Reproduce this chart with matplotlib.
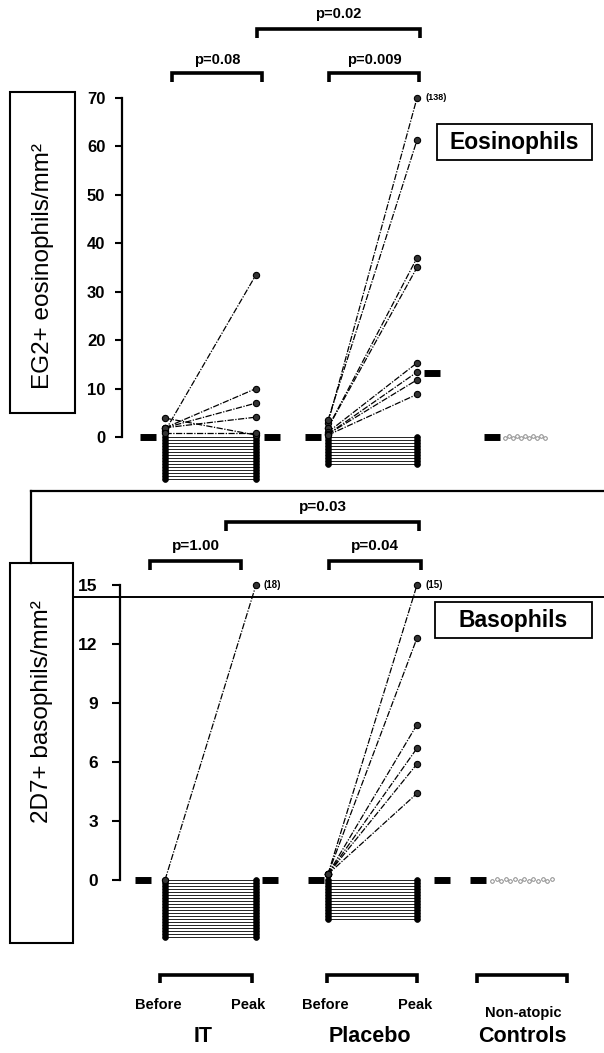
import matplotlib
matplotlib.use('Agg')
import matplotlib.pyplot as plt
from matplotlib.patches import Rectangle

plt.rcParams['font.family'] = ['Liberation Sans', 'DejaVu Sans']

# ---------------- data ----------------
groups = ['IT', 'Placebo', 'Controls']
timepoints = ['Before', 'Peak']
control_label = 'Non-atopic'

# Eosinophils (EG2+ /mm2)
eos_it_before = [1.2, 1.9, 1.9, 1.9, 3.9, 0.8]
eos_it_peak = [33.5, 10.0, 7.0, 4.1, 0.4, 0.8]
eos_it_zero = 15          # subjects with 0 before and 0 at peak
eos_pl_before = [2.9, 3.5, 1.9, 1.9, 1.0, 0.6, 0.6, 0.4]
eos_pl_peak = [70.0, 61.3, 37.0, 35.0, 15.3, 13.4, 11.8, 8.8]
eos_pl_zero = 10
eos_ctrl = [0] * 11
eos_medians = [0, 0, 0, 13.3, 0]   # IT before, IT peak, Pl before, Pl peak, controls
eos_ticks = [0, 10, 20, 30, 40, 50, 60, 70]
eos_pvals = ['p=0.08', 'p=0.009', 'p=0.02']
eos_clip_label = '(138)'

# Basophils (2D7+ /mm2)
baso_it_before = [0.0]
baso_it_peak = [15.0]
baso_it_zero = 20
baso_pl_before = [0.3, 0.3, 0.3, 0.3, 0.3, 0.3]
baso_pl_peak = [15.0, 12.3, 7.9, 6.7, 5.9, 4.4]
baso_pl_zero = 14
baso_ctrl = [0] * 14
baso_medians = [0, 0, 0, 0, 0]
baso_ticks = [0, 3, 6, 9, 12, 15]
baso_pvals = ['p=1.00', 'p=0.04', 'p=0.03']
baso_clip_labels = ['(18)', '(15)']

# ---------------- layout ----------------
W, H = 604, 1053
fig = plt.figure(figsize=(W / 100, H / 100), dpi=100)

col = [165, 256, 328, 417]      # IT before, IT peak, Pl before, Pl peak


def make_ax(top_px, bot_px, zero_px, ppu, spine_x):
    ax = fig.add_axes([0, 1 - bot_px / H, 1, (bot_px - top_px) / H])
    ax.set_xlim(0, W)
    ax.set_ylim((zero_px - bot_px) / ppu, (zero_px - top_px) / ppu)
    ax.patch.set_alpha(0)
    for s in ['top', 'right', 'bottom']:
        ax.spines[s].set_visible(False)
    ax.spines['left'].set_position(('data', spine_x))
    ax.spines['left'].set_linewidth(1.6)
    ax.set_xticks([])
    return ax


def draw_panel(ax, ppu, it_b, it_p, it_z, pl_b, pl_p, pl_z, ctrl, med,
               med_x, ctrl_x0, ctrl_dx):
    step = 3.0 / ppu
    # zero-zero subjects, stacked below zero
    for xb, xp, n in [(col[0], col[1], it_z), (col[2], col[3], pl_z)]:
        for k in range(n):
            y = -k * step
            ax.plot([xb, xp], [y, y], color='#222222', lw=0.7, zorder=2)
            ax.plot([xb, xp], [y, y], ls='none', marker='o', ms=4.2,
                    mfc='black', mec='black', mew=0.5, zorder=3)
    # paired non-zero subjects
    for xb, xp, b, p in [(col[0], col[1], it_b, it_p), (col[2], col[3], pl_b, pl_p)]:
        for vb, vp in zip(b, p):
            ax.plot([xb, xp], [vb, vp], color='black', lw=0.9,
                    ls=(0, (5, 1.2, 1, 1.2)), zorder=2)
            ax.plot([xb, xp], [vb, vp], ls='none', marker='o', ms=4.5,
                    mfc='#333333', mec='black', mew=0.8, zorder=3)
    # controls
    for i, v in enumerate(ctrl):
        ax.plot(ctrl_x0 + i * ctrl_dx, v + (0.9 if i % 2 else -0.7) / ppu,
                marker='o', ms=2.6, mfc='none', mec='#8a8a8a', mew=0.7,
                ls='none', zorder=3)
    # medians
    for x, m in zip(med_x, med):
        ax.plot(x, m, marker='_', ms=12, mew=5, color='black', zorder=4)


# top panel: eosinophils
ppu_e = 4.843
ax1 = make_ax(92, 490, 437, ppu_e, 122)
ax1.spines['left'].set_bounds(0, 70)
ax1.set_yticks(eos_ticks)
ax1.set_yticklabels([str(t) for t in eos_ticks], fontweight='bold', fontsize=12)
ax1.tick_params(axis='y', length=5, width=1.5, pad=7)
draw_panel(ax1, ppu_e, eos_it_before, eos_it_peak, eos_it_zero,
           eos_pl_before, eos_pl_peak, eos_pl_zero, eos_ctrl, eos_medians,
           [148, 272, 313, 432, 492], 505, 4)
ax1.text(col[3] + 8, max(eos_pl_peak), eos_clip_label, fontsize=6.5,
         va='center', ha='left', fontweight='bold')

# bottom panel: basophils
ppu_b = 19.67
ax2 = make_ax(575, 950, 880, ppu_b, 120)
ax2.spines['left'].set_bounds(0, 15)
ax2.set_yticks(baso_ticks)
ax2.set_yticklabels([str(t) for t in baso_ticks], fontweight='bold', fontsize=12.5)
ax2.tick_params(axis='y', length=6, width=1.5, pad=10)
draw_panel(ax2, ppu_b, baso_it_before, baso_it_peak, baso_it_zero,
           baso_pl_before, baso_pl_peak, baso_pl_zero, baso_ctrl, baso_medians,
           [143, 270, 316, 442, 478], 492, 4.6)
ax2.text(col[1] + 8, max(baso_it_peak), baso_clip_labels[0], fontsize=7,
         va='center', ha='left', fontweight='bold')
ax2.text(col[3] + 8, max(baso_pl_peak), baso_clip_labels[1], fontsize=7,
         va='center', ha='left', fontweight='bold')

# ---------------- overlay annotations ----------------
ov = fig.add_axes([0, 0, 1, 1])
ov.set_xlim(0, W)
ov.set_ylim(H, 0)
ov.axis('off')
ov.patch.set_alpha(0)


def bracket(x1, x2, y, h=9, lw=2.6, text=None, ty=None, fs=10.5):
    ov.plot([x1, x1, x2, x2], [y + h, y, y, y + h], color='black', lw=lw,
            solid_capstyle='butt', solid_joinstyle='miter')
    if text is not None:
        ov.text((x1 + x2) / 2, ty, text, ha='center', va='center',
                fontsize=fs, fontweight='bold')


# eosinophil p-value brackets
bracket(172, 262, 73, text=eos_pvals[0], ty=60)
bracket(329, 419, 73, text=eos_pvals[1], ty=60)
bracket(257, 420, 29, text=eos_pvals[2], ty=14)

# basophil p-value brackets
bracket(150, 241, 561, text=baso_pvals[0], ty=546, fs=11)
bracket(329, 421, 561, text=baso_pvals[1], ty=546, fs=11)
bracket(226, 419, 522, text=baso_pvals[2], ty=507, fs=11)

# frame lines
ov.plot([31, W], [491, 491], color='black', lw=1.6)
ov.plot([31, 31], [491, 563], color='black', lw=1.6)
ov.plot([73, W], [597, 597], color='black', lw=1.4)

# y-label boxes
ov.add_patch(Rectangle((10, 92), 65, 321, fill=False, lw=1.5, ec='black'))
ov.text(43, 266, 'EG2+ eosinophils/mm²', rotation=90, ha='center', va='center',
        fontsize=17.5)
ov.add_patch(Rectangle((10, 563), 63, 380, fill=False, lw=1.5, ec='black'))
ov.text(42, 712, '2D7+ basophils/mm²', rotation=90, ha='center', va='center',
        fontsize=17.5)

# cell-type label boxes
ov.add_patch(Rectangle((437, 124), 155, 36, fill=False, lw=1.3, ec='black'))
ov.text(514.5, 142, 'Eosinophils', ha='center', va='center', fontsize=16.5,
        fontweight='bold')
ov.add_patch(Rectangle((435, 602), 157, 36, fill=False, lw=1.3, ec='black'))
ov.text(513.5, 620, 'Basophils', ha='center', va='center', fontsize=16.5,
        fontweight='bold')

# category brackets and labels
bracket(160, 252, 975, h=8, lw=2.6)
bracket(327, 417, 975, h=8, lw=2.6)
bracket(477, 567, 975, h=8, lw=2.6)
for x, t in zip([158, 248, 325, 415], timepoints * 2):
    ov.text(x, 1005, t, ha='center', va='center', fontsize=10.5, fontweight='bold')
ov.text(523, 1013, control_label, ha='center', va='center', fontsize=10.5,
        fontweight='bold')
for x, g in zip([203, 370, 522], groups):
    ov.text(x, 1037, g, ha='center', va='center', fontsize=15.5, fontweight='bold')

fig.savefig('out.png', dpi=100)
